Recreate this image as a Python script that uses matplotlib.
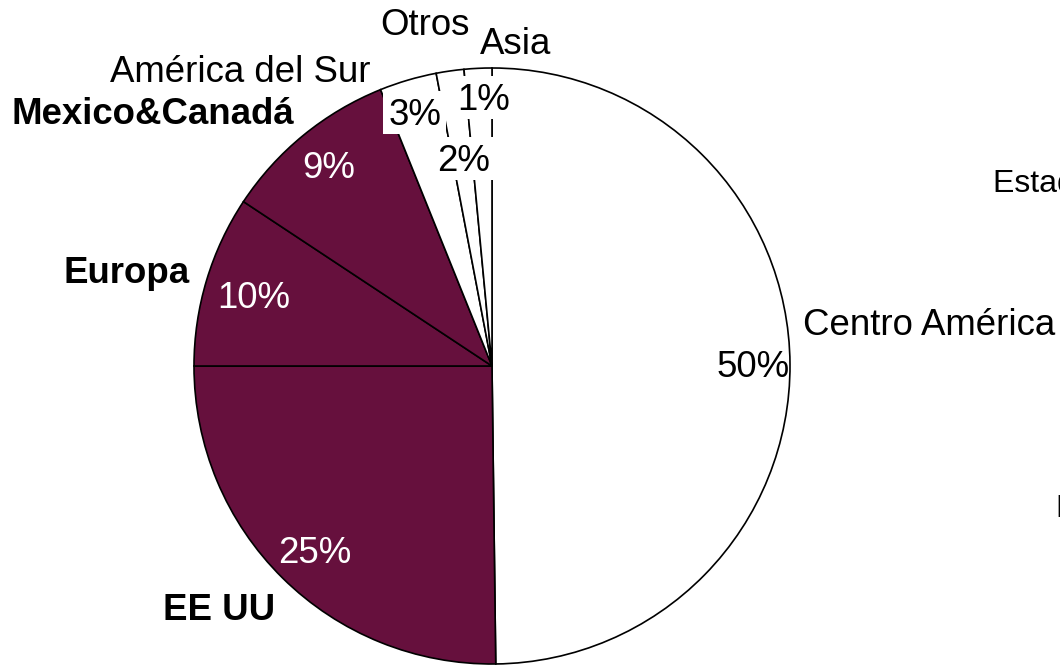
import matplotlib
matplotlib.use("Agg")
import matplotlib.pyplot as plt
from matplotlib.patches import Rectangle

# ---- data ----
categories = ["Centro América", "EE UU", "Europa", "Mexico&Canadá",
              "América del Sur", "Otros", "Asia"]
shares = [49.8, 25.2, 9.3, 9.6, 3.1, 1.5, 1.5]
pct_labels = ["50%", "25%", "10%", "9%", "3%", "2%", "1%"]
fill_colors = ["white", "#66103D", "#66103D", "#66103D", "white", "white", "white"]

W, H = 1060, 669
plt.rcParams['font.family'] = ['Liberation Sans', 'DejaVu Sans']

fig = plt.figure(figsize=(W / 100, H / 100), dpi=100)
ax = fig.add_axes([0, 0, 1, 1])

def py(y):
    return H - y

cx, cy, r = 492, 366, 298
ax.pie(shares, colors=fill_colors, startangle=90, counterclock=False,
       center=(cx, py(cy)), radius=r, frame=True,
       wedgeprops=dict(edgecolor='black', linewidth=1.2))
ax.set_xlim(0, W)
ax.set_ylim(0, H)
ax.set_aspect('equal')
ax.axis('off')

fs = 26.4
# category name labels (ha left, baseline)
name_pos = [(803, 335), (163, 620), (64, 283), (12, 124),
            (110, 82), (380, 35), (480, 54)]
name_bold = [False, True, True, True, False, False, False]
for name, (x, y), b in zip(categories, name_pos, name_bold):
    ax.text(x, py(y), name, fontsize=fs, ha='left', va='baseline',
            fontweight='bold' if b else 'normal', color='black', zorder=5)

# percentage labels
pct_pos = [(717, 377), (278, 563), (217, 308), (302, 178),
           (389, 125), (437, 171), (457, 110)]
pct_color = ['black', 'white', 'white', 'white', 'black', 'black', 'black']
pct_box = [False, False, False, False, True, True, True]
for lab, (x, y), c, b in zip(pct_labels, pct_pos, pct_color, pct_box):
    if b:
        # white label background, as in the original
        ax.add_patch(Rectangle((x - 6, py(y + 9)), 63, 43,
                               facecolor='white', edgecolor='none', zorder=4))
    ax.text(x, py(y), lab, fontsize=fs, ha='left', va='baseline',
            color=c, zorder=6)

# cut-off labels at the right edge
ax.text(993, py(192), "Estados Unidos", fontsize=23, ha='left',
        va='baseline', color='black', clip_on=False)
ax.text(1055, py(517), "Europa", fontsize=23, ha='left',
        va='baseline', color='black', clip_on=False)

fig.savefig("out.png", dpi=100, facecolor='white')
